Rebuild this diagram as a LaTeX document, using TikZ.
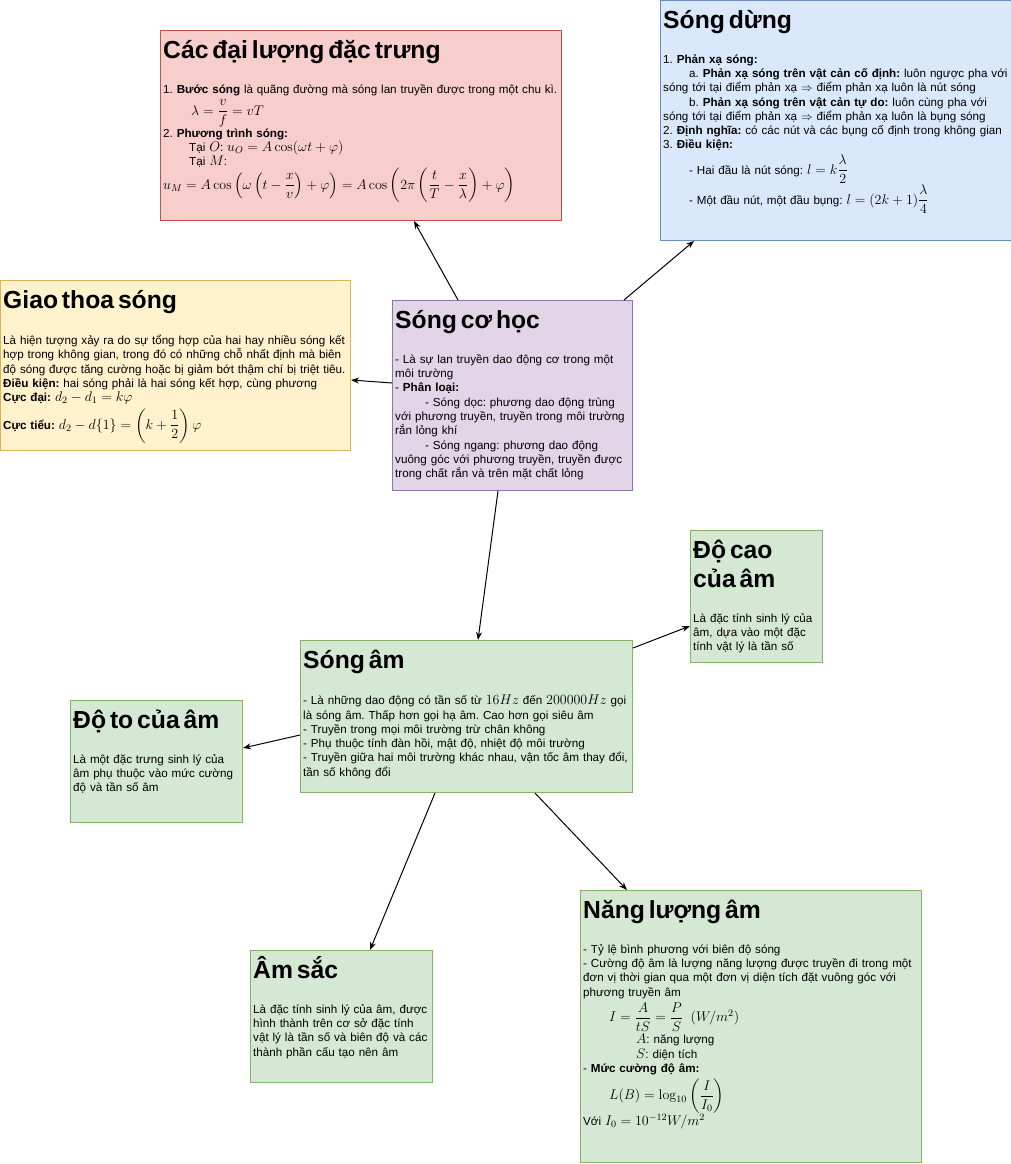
\RequirePackage{fix-cm}
\documentclass[tikz,border=0pt]{standalone}
\usepackage[no-math]{fontspec}
\setmainfont{Liberation Sans}
\usepackage{amsmath}
\usetikzlibrary{arrows.meta,positioning}
\definecolor{redfill}{HTML}{F8CECC}
\definecolor{redline}{HTML}{B85450}
\definecolor{bluefill}{HTML}{DAE8FC}
\definecolor{blueline}{HTML}{6C8EBF}
\definecolor{yellowfill}{HTML}{FFF2CC}
\definecolor{yellowline}{HTML}{D6B656}
\definecolor{purplefill}{HTML}{E1D5E7}
\definecolor{purpleline}{HTML}{9673A6}
\definecolor{greenfill}{HTML}{D5E8D4}
\definecolor{greenline}{HTML}{82B366}
\frenchspacing
\newcommand{\cardhead}[1]{{\fontsize{24.7}{29}\selectfont\bfseries\rule{0pt}{28pt}#1\par}\vspace{20.7pt}}
\newcommand{\mth}[1]{{\fontsize{14}{14.3}\selectfont$#1$}}
\newcommand{\tabin}{\hspace*{26pt}}
\begin{document}
\begin{tikzpicture}[x=1pt,y=-1pt,
    card/.style 2 args={draw=#2,fill=#1,line width=1pt,anchor=north west,inner sep=0pt},
    cardtext/.style={anchor=north west,inner sep=0pt,align=left,font=\fontsize{11.65}{14.3}\selectfont},
    link/.style={-{Stealth[length=8pt,width=6pt]},line width=1pt}]
                \useasboundingbox (0,0) rectangle (1011,1164);
                \node[card={redfill}{redline},minimum width=401pt,minimum height=190pt] (dailuong) at (160,30) {};
                \node[card={bluefill}{blueline},minimum width=351pt,minimum height=240pt] (songdung) at (660,0) {};
                \node[card={yellowfill}{yellowline},minimum width=350pt,minimum height=170pt] (giaothoa) at (0,280) {};
                \node[card={purplefill}{purpleline},minimum width=240pt,minimum height=190pt] (socohoc) at (392,300) {};
                \node[card={greenfill}{greenline},minimum width=332pt,minimum height=152pt] (songam) at (300,640) {};
                \node[card={greenfill}{greenline},minimum width=132pt,minimum height=132pt] (docao) at (690,530) {};
                \node[card={greenfill}{greenline},minimum width=172pt,minimum height=122pt] (doto) at (70,700) {};
                \node[card={greenfill}{greenline},minimum width=182pt,minimum height=132pt] (amsac) at (250,950) {};
                \node[card={greenfill}{greenline},minimum width=341pt,minimum height=272pt] (nangluong) at (580,890) {};

                \node[cardtext,text width=430pt] (dailuongtext) at ([xshift=3pt]dailuong.north west) {\cardhead{Các đại lượng đặc trưng}
                    1. \textbf{Bước sóng} là quãng đường mà sóng lan truyền được trong một chu kì.\\[3pt]
                    \hspace*{28pt}\mth{\lambda = \dfrac{v}{f} = vT}\\
                    2. \textbf{Phương trình sóng:}\\
                    \tabin Tại \mth{O}: \mth{u_O = A\cos(\omega t+\varphi)}\\
                    \tabin Tại \mth{M}:\\
                    \mth{u_M = A\cos\left(\omega\left(t-\dfrac{x}{v}\right)+\varphi\right) = A\cos\left(2\pi\left(\dfrac{t}{T}-\dfrac{x}{\lambda}\right)+\varphi\right)}};
                \node[cardtext,text width=380pt] (songdungtext) at ([xshift=3pt]songdung.north west) {\cardhead{Sóng dừng}
                    1. \textbf{Phản xạ sóng:}\\
                    \tabin a. \textbf{Phản xạ sóng trên vật cản cố định:} luôn ngược pha với\\
                    sóng tới tại điểm phản xạ $\Rightarrow$ điểm phản xạ luôn là nút sóng\\
                    \tabin b. \textbf{Phản xạ sóng trên vật cản tự do:} luôn cùng pha với\\
                    sóng tới tại điểm phản xạ $\Rightarrow$ điểm phản xạ luôn là bụng sóng\\
                    2. \textbf{Định nghĩa:} có các nút và các bụng cố định trong không gian\\
                    3. \textbf{Điều kiện:}\\[3pt]
                    \tabin - Hai đầu là nút sóng: \mth{l = k\dfrac{\lambda}{2}}\\
                    \tabin - Một đầu nút, một đầu bụng: \mth{l = (2k+1)\dfrac{\lambda}{4}}};
                \node[cardtext,text width=380pt] (giaothoatext) at ([xshift=3pt]giaothoa.north west) {\cardhead{Giao thoa sóng}
                    Là hiện tượng xảy ra do sự tổng hợp của hai hay nhiều sóng kết\\
                    hợp trong không gian, trong đó có những chỗ nhất định mà biên\\
                    độ sóng được tăng cường hoặc bị giảm bớt thậm chí bị triệt tiêu.\\
                    \textbf{Điều kiện:} hai sóng phải là hai sóng kết hợp, cùng phương\\
                    \textbf{Cực đại:} \mth{d_2 - d_1 = k\varphi}\\[3pt]
                    \textbf{Cực tiểu:} \mth{d_2 - d\{1\} = \left(k+\dfrac{1}{2}\right)\varphi}};
                \node[cardtext,text width=270pt] (socohoctext) at ([xshift=3pt]socohoc.north west) {\cardhead{Sóng cơ học}
                    - Là sự lan truyền dao động cơ trong một\\
                    môi trường\\
                    - \textbf{Phân loại:}\\
                    \hspace*{30pt}- Sóng dọc: phương dao động trùng\\
                    với phương truyền, truyền trong môi trường\\
                    rắn lỏng khí\\
                    \hspace*{30pt}- Sóng ngang: phương dao động\\
                    vuông góc với phương truyền, truyền được\\
                    trong chất rắn và trên mặt chất lỏng};
                \node[cardtext,text width=360pt] (songamtext) at ([xshift=3pt]songam.north west) {\cardhead{Sóng âm}
                    - Là những dao động có tần số từ \mth{16Hz} đến \mth{200000Hz} gọi\\
                    là sóng âm. Thấp hơn gọi hạ âm. Cao hơn gọi siêu âm\\
                    - Truyền trong mọi môi trường trừ chân không\\
                    - Phụ thuộc tính đàn hồi, mật độ, nhiệt độ môi trường\\
                    - Truyền giữa hai môi trường khác nhau, vận tốc âm thay đổi,\\
                    tần số không đổi};
                \node[cardtext,text width=160pt] (docaotext) at ([xshift=3pt]docao.north west) {\cardhead{Độ cao\\của âm}
                    Là đặc tính sinh lý của\\
                    âm, dựa vào một đặc\\
                    tính vật lý là tần số};
                \node[cardtext,text width=200pt] (dototext) at ([xshift=3pt]doto.north west) {\cardhead{Độ to của âm}
                    Là một đặc trưng sinh lý của\\
                    âm phụ thuộc vào mức cường\\
                    độ và tần số âm};
                \node[cardtext,text width=210pt] (amsactext) at ([xshift=3pt]amsac.north west) {\cardhead{Âm sắc}
                    Là đặc tính sinh lý của âm, được\\
                    hình thành trên cơ sở đặc tính\\
                    vật lý là tần số và biên độ và các\\
                    thành phần cấu tạo nên âm};
                \node[cardtext,text width=370pt] (nangluongtext) at ([xshift=3pt]nangluong.north west) {\cardhead{Năng lượng âm}
                    - Tỷ lệ bình phương với biên độ sóng\\
                    - Cường độ âm là lượng năng lượng được truyền đi trong một\\
                    đơn vị thời gian qua một đơn vị diện tích đặt vuông góc với\\
                    phương truyền âm\\[3pt]
                    \tabin\mth{I = \dfrac{A}{tS} = \dfrac{P}{S}\;\;(W/m^2)}\\[2pt]
                    \hspace*{53pt}\mth{A}: năng lượng\\
                    \hspace*{53pt}\mth{S}: diện tích\\
                    - \textbf{Mức cường độ âm:}\\[3pt]
                    \tabin\mth{L(B) = \log_{10}\left(\dfrac{I}{I_0}\right)}\\
                    Với \mth{I_0 = 10^{-12}W/m^2}};

                \draw[link] ([xshift=66pt]socohoc.north west) -- ([xshift=254pt]dailuong.south west);
                \draw[link] ([xshift=232pt]socohoc.north west) -- ([xshift=34pt]songdung.south west);
                \draw[link] ([yshift=-83pt]socohoc.north west) -- ([yshift=-100pt]giaothoa.north east);
                \draw[link] ([xshift=106pt]socohoc.south west) -- ([xshift=178pt]songam.north west);
                \draw[link] ([yshift=-8pt]songam.north east) -- ([yshift=-96pt]docao.north west);
                \draw[link] ([yshift=-95pt]songam.north west) -- ([yshift=-48pt]doto.north east);
                \draw[link] ([xshift=135pt]songam.south west) -- ([xshift=120pt]amsac.north west);
                \draw[link] ([xshift=235pt]songam.south west) -- ([xshift=47pt]nangluong.north west);
\end{tikzpicture}
\end{document}
